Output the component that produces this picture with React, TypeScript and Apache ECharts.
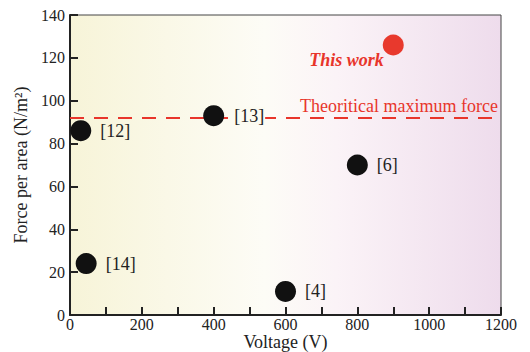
import React, { useEffect, useRef } from "react";
import * as echarts from "echarts";

const refLabels = ["[12]", "[13]", "[6]", "[14]", "[4]"];
const refVoltage = [30, 400, 800, 45, 600];
const refForce = [86, 93, 70, 24, 11];
const thisWorkLabel = "This work";
const thisWorkVoltage = [900];
const thisWorkForce = [126];
const theoreticalMax = 92;
const theoreticalLabel = "Theoritical maximum force";

const FONT = '"Liberation Serif", "Times New Roman", serif';

export default function App() {
  const ref = useRef<HTMLDivElement>(null);
  useEffect(() => {
    const chart = echarts.init(ref.current!, null, { renderer: "svg" });
    chart.setOption({
      animation: false,
      textStyle: { fontFamily: FONT },
      grid: {
        left: 70,
        right: 29,
        top: 15,
        bottom: 37,
        containLabel: false,
        outerBoundsMode: "none",
        show: true,
        borderColor: "#444",
        borderWidth: 1,
        backgroundColor: new echarts.graphic.LinearGradient(0, 0, 1, 0, [
          { offset: 0, color: "#f7f4d8" },
          { offset: 0.45, color: "#fdfcf6" },
          { offset: 0.62, color: "#fbf3f7" },
          { offset: 1, color: "#eedcec" },
        ]),
      },
      xAxis: {
        type: "value",
        min: 0,
        max: 1200,
        interval: 100,
        name: "Voltage (V)",
        nameLocation: "middle",
        nameGap: 18,
        nameMoveOverlap: false,
        nameTextStyle: { fontFamily: FONT, fontSize: 18, lineHeight: 18, color: "#222" },
        axisLine: { show: true, lineStyle: { color: "#222", width: 2 } },
        axisTick: { show: true, inside: true, length: 8, lineStyle: { color: "#222", width: 2 } },
        axisLabel: {
          fontFamily: FONT,
          fontSize: 16,
          lineHeight: 15,
          color: "#222",
          margin: 2,
          formatter: (v: number) => (v % 200 === 0 ? String(v) : ""),
        },
        splitLine: { show: false },
      },
      yAxis: {
        type: "value",
        min: 0,
        max: 140,
        interval: 20,
        name: "Force per area (N/m²)",
        nameLocation: "middle",
        nameGap: 40,
        nameMoveOverlap: false,
        nameTextStyle: { fontFamily: FONT, fontSize: 18, color: "#222" },
        axisLine: { show: true, lineStyle: { color: "#222", width: 2 } },
        axisTick: { show: true, inside: true, length: 8, lineStyle: { color: "#222", width: 2 } },
        axisLabel: { fontFamily: FONT, fontSize: 16, color: "#222", margin: 5 },
        splitLine: { show: false },
      },
      series: [
        {
          type: "line",
          data: [],
          z: 1,
          markLine: {
            silent: true,
            z: 1,
            symbol: "none",
            lineStyle: { color: "#e8352b", width: 2, type: [14, 10] },
            label: {
              show: true,
              position: "insideEndTop",
              formatter: theoreticalLabel,
              fontFamily: FONT,
              fontSize: 18,
              color: "#e8352b",
              distance: 3,
            },
            data: [{ yAxis: theoreticalMax }],
          },
        },
        {
          type: "scatter",
          z: 3,
          symbolSize: 21,
          itemStyle: { color: "#111", opacity: 1 },
          data: refVoltage.map((v, i) => ({
            value: [v, refForce[i]],
            name: refLabels[i],
            label: i === 1 ? { backgroundColor: "#fcfbf1", padding: [0, 1] } : undefined,
          })),
          label: {
            show: true,
            position: "right",
            distance: 9,
            formatter: "{b}",
            fontFamily: FONT,
            fontSize: 18,
            color: "#222",
          },
        },
        {
          type: "scatter",
          z: 3,
          symbolSize: 21,
          itemStyle: { color: "#e8392d", opacity: 1 },
          data: thisWorkVoltage.map((v, i) => ({ value: [v, thisWorkForce[i]], name: thisWorkLabel })),
          label: {
            show: true,
            position: "left",
            distance: 0,
            offset: [1, 15],
            formatter: "{b}",
            fontFamily: FONT,
            fontSize: 18,
            fontWeight: "bold",
            fontStyle: "italic",
            color: "#e8352b",
          },
        },
      ],
    });
    return () => chart.dispose();
  }, []);
  return (
    <div
      ref={ref}
      style={{ position: "fixed", left: 0, top: 0, width: 530, height: 352, background: "#fff" }}
    />
  );
}
